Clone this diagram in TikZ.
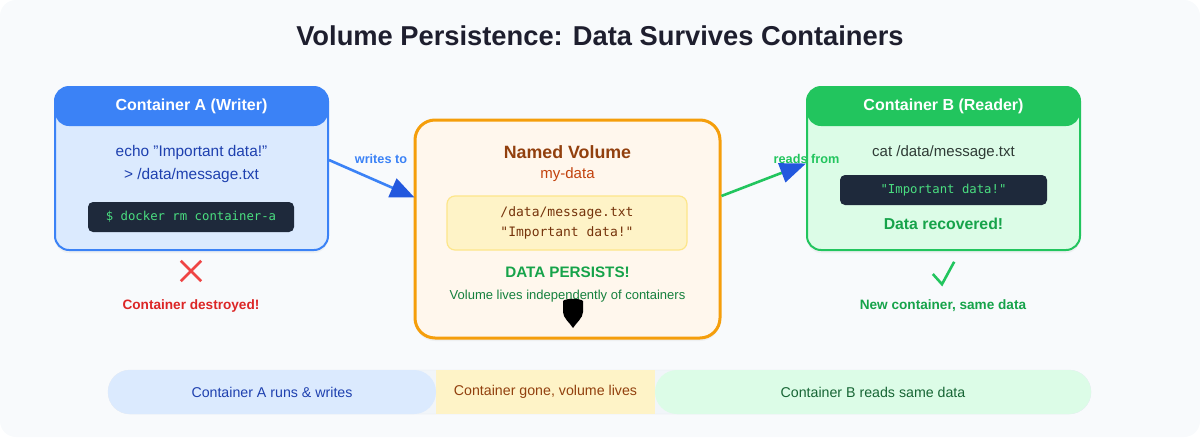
\documentclass[tikz,border=0pt]{standalone}
\usepackage{fontspec}
\setmainfont{Liberation Sans}
\setmonofont{DejaVu Sans Mono}
\usetikzlibrary{arrows.meta,shadows}
\definecolor{bgc}{HTML}{F8FAFC}
\definecolor{titlec}{HTML}{1E1E2E}
\definecolor{blueA}{HTML}{3B82F6}
\definecolor{blueD}{HTML}{1D4ED8}
\definecolor{blueL}{HTML}{DBEAFE}
\definecolor{blueT}{HTML}{1E40AF}
\definecolor{greenA}{HTML}{22C55E}
\definecolor{greenL}{HTML}{DCFCE7}
\definecolor{greenT}{HTML}{16A34A}
\definecolor{greenD}{HTML}{15803D}
\definecolor{greenX}{HTML}{166534}
\definecolor{orangeA}{HTML}{F59E0B}
\definecolor{orangeL}{HTML}{FFF7ED}
\definecolor{brownT}{HTML}{92400E}
\definecolor{brownM}{HTML}{C2410C}
\definecolor{yellowL}{HTML}{FEF3C7}
\definecolor{yellowB}{HTML}{FDE68A}
\definecolor{termbg}{HTML}{1E293B}
\definecolor{termtx}{HTML}{4ADE80}
\definecolor{redT}{HTML}{DC2626}
\definecolor{redX}{HTML}{EF4444}
\definecolor{trackc}{HTML}{F1F5F9}
\definecolor{trackb}{HTML}{E2E8F0}
\definecolor{grayT}{HTML}{2F3B36}
\tikzset{
  fs/.style={font=\fontsize{#1}{#1}\selectfont},
  panel/.style={rounded corners=14pt, line width=2pt, inner sep=0pt,
     drop shadow={shadow xshift=0pt, shadow yshift=-3pt, opacity=0.08}},
  header/.style={rounded corners=14pt, inner sep=0pt, minimum width=273pt, minimum height=39pt,
     text=white, font=\fontsize{16}{18}\selectfont\bfseries},
  term/.style={fill=termbg, rounded corners=5pt, inner sep=0pt, minimum height=30pt,
     text=termtx, font=\fontsize{12.3}{14}\selectfont\ttfamily},
  lbl/.style={inner sep=0pt},
  seg/.style={inner sep=0pt, minimum height=44pt, font=\fontsize{14.2}{16}\selectfont},
}
\begin{document}
\begin{tikzpicture}[x=1pt,y=-1pt]
\useasboundingbox (0,0) rectangle (1200,437);
\fill[bgc, rounded corners=16pt] (0,0) rectangle (1200,437);

\node[lbl, text=titlec, font=\fontsize{27.3}{30}\selectfont\bfseries] (title) at (600,36) {Volume Persistence: Data Survives Containers};

% Container A
\node[panel, draw=blueA, fill=blueL, minimum width=273pt, minimum height=163pt] (A) at (191.5,168.5) {};
\node[header, fill=blueA] (Ah) at (191.5,106.5) {Container A (Writer)};
\node[lbl, text=blueT, fs=15.4] (Acmd1) at (191.5,153) {echo "Important data!"};
\node[lbl, text=blueT, fs=15.4] (Acmd2) at (191.5,176) {> /data/message.txt};
\node[term, minimum width=206pt] (Aterm) at (191,217) {\$ docker rm container-a};
\node[lbl, minimum size=20pt] (Ax) at (191,271) {};
\draw[redX, line width=2.6pt] (Ax.north west) -- (Ax.south east) (Ax.north east) -- (Ax.south west);
\node[lbl, text=redT, font=\fontsize{13.6}{15}\selectfont\bfseries] (Adest) at (191,306) {Container destroyed!};

% Volume
\node[panel, rounded corners=20pt, draw=orangeA, line width=3pt, fill=orangeL, minimum width=305pt, minimum height=218pt] (V) at (567.5,229) {};
\node[lbl, text=brownT, font=\fontsize{17.8}{19}\selectfont\bfseries] (Vt) at (567.5,152) {Named Volume};
\node[lbl, text=brownM, fs=15] (Vn) at (567.5,175) {my-data};
\node[draw=yellowB, line width=1.2pt, fill=yellowL, rounded corners=8pt, minimum width=240pt, minimum height=54pt, inner sep=0pt] (Vf) at (567,223) {};
\node[lbl, text=brownT!80!black, font=\fontsize{13}{15}\selectfont\ttfamily] (Vf1) at (567,213) {/data/message.txt};
\node[lbl, text=brownT!80!black, font=\fontsize{13}{15}\selectfont\ttfamily] (Vf2) at (567,233) {"Important data!"};
\node[lbl, text=greenT, font=\fontsize{15.2}{17}\selectfont\bfseries] (Vp) at (567.5,272) {DATA PERSISTS!};
\node[lbl, text=greenD, fs=13] (Vs) at (567.5,296) {Volume lives independently of containers};
\fill[black] (563,301) .. controls (566,298) and (580,298) .. (583,301) -- (583,312) .. controls (583,318) and (576,323) .. (573,328) .. controls (570,323) and (563,318) .. (563,312) -- cycle;

% Container B
\node[panel, draw=greenA, fill=greenL, minimum width=273pt, minimum height=163pt] (B) at (943.5,168.5) {};
\node[header, fill=greenA] (Bh) at (943.5,106.5) {Container B (Reader)};
\node[lbl, text=grayT, fs=15] (Bcmd) at (943.5,153) {cat /data/message.txt};
\node[term, minimum width=207pt] (Bterm) at (943.5,190) {"Important data!"};
\node[lbl, text=greenT, font=\fontsize{15.8}{17}\selectfont\bfseries] (Brec) at (943.5,224) {Data recovered!};
\node[lbl, minimum size=22pt] (Bc) at (943,272) {};
\draw[greenA, line width=2.6pt] ([xshift=1pt,yshift=-2pt]Bc.west) -- ([xshift=-1pt,yshift=-1pt]Bc.south) -- ([yshift=-1pt]Bc.north east);
\node[lbl, text=greenT, font=\fontsize{13.6}{15}\selectfont\bfseries] (Bnew) at (943,306) {New container, same data};

% Arrows
\draw[blueA, line width=2.6pt, -{Triangle[length=24pt,width=20pt,fill=blueD!80!blueA,color=blueD!80!blueA]}, shorten >=-1pt]
  ([yshift=8.5pt]A.east) -- ([yshift=32pt]V.west);
\node[lbl, text=blueA, font=\fontsize{12.7}{14}\selectfont\bfseries] (wlab) at (381,159) {writes to};
\draw[greenA, line width=2.6pt, -{Triangle[length=26pt,width=20pt,fill=blueD!80!blueA,color=blueD!80!blueA]}]
  ([yshift=33pt]V.east) -- ([yshift=5pt]B.west);
\node[lbl, text=greenA, font=\fontsize{12.7}{14}\selectfont\bfseries] (rlab) at (806.5,159) {reads from};

% Timeline
\node[draw=trackb, fill=trackc, rounded corners=22pt, minimum width=983pt, minimum height=44pt, inner sep=0pt] (track) at (599.5,392) {};
\node[seg, fill=yellowL, minimum width=219pt, text=brownT] (t2) at (545.5,392) {Container gone, volume lives};
\node[seg, fill=blueL, rounded corners=22pt, minimum width=328pt, text=blueT] (t1) at (272,392) {Container A runs \& writes};
\node[seg, fill=greenL, rounded corners=22pt, minimum width=436pt, text=greenX] (t3) at (873,392) {Container B reads same data};
\end{tikzpicture}
\end{document}
